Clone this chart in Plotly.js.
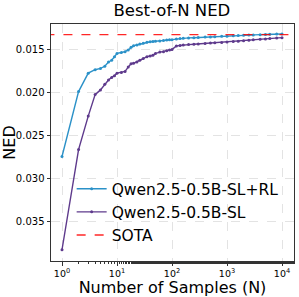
<!DOCTYPE html>
<html><head><meta charset="utf-8">
<script src="https://cdn.plot.ly/plotly-3.0.1.min.js"></script>
<style>html,body{margin:0;padding:0;background:#fff}#c{width:299px;height:297px}</style>
</head><body><div id="c"></div>
<script>
const samplesN = [1,2,3,4,5,6,7,8,9,10,12,14,16,18,20,23,26,30,35,40,45,50,60,70,80,90,100,120,140,160,200,250,300,400,500,600,800,1000,1300,1600,2000,2500,3000,4000,5000,6000,8000,10000];
const nedSLRL = [0.0274,0.01985,0.0177,0.0173,0.01715,0.0169,0.0164,0.0162,0.0158,0.0154,0.0153,0.0152,0.0150,0.0147,0.0145,0.01442,0.01432,0.01422,0.0141,0.01405,0.01402,0.0140,0.01395,0.0139,0.01385,0.01382,0.0138,0.01374,0.01368,0.01364,0.0136,0.01358,0.01355,0.0135,0.01348,0.01346,0.01342,0.0134,0.01336,0.01333,0.0133,0.01327,0.01325,0.01322,0.0132,0.01318,0.01315,0.01314];
const nedSL = [0.03826,0.0266,0.0227,0.0202,0.01965,0.0190,0.0185,0.0182,0.0180,0.0177,0.01762,0.0175,0.0170,0.0166,0.01655,0.0164,0.0162,0.0160,0.01578,0.0157,0.01562,0.0154,0.01525,0.0152,0.0151,0.0150,0.01495,0.01453,0.01448,0.01442,0.01438,0.01434,0.0143,0.01424,0.0142,0.01416,0.01412,0.01408,0.01402,0.01398,0.01392,0.01386,0.01382,0.01376,0.01372,0.01368,0.01362,0.01357];
const sotaNED = 0.01322;
const xTickVals = [1,10,100,1000,10000];
const xTickText = ['10<sup>0</sup>','10<sup>1</sup>','10<sup>2</sup>','10<sup>3</sup>','10<sup>4</sup>'];
const yTickVals = [0.015,0.020,0.025,0.030,0.035];
const yTickText = ['0.015','0.020','0.025','0.030','0.035'];

const F = 'DejaVu Sans, sans-serif';
const traces = [
  {x: samplesN, y: nedSLRL, mode:'lines+markers', name:'Qwen2.5-0.5B-SL+RL',
   line:{color:'#2b91c8', width:1.4}, marker:{color:'#2b91c8', size:3}},
  {x: samplesN, y: nedSL, mode:'lines+markers', name:'Qwen2.5-0.5B-SL',
   line:{color:'#5e3a8c', width:1.4}, marker:{color:'#5e3a8c', size:3}},
  {x: [0.5, 20000], y: [sotaNED, sotaNED], mode:'lines', name:'SOTA',
   line:{color:'rgba(255,0,0,0.85)', width:1.3, dash:'dash'}}
];
const layout = {
  width:299, height:297,
  margin:{l:51, r:5, t:24, b:36},
  paper_bgcolor:'#fff', plot_bgcolor:'#fff',
  font:{family:F, color:'#000', size:10},
  title:{text:'Best-of-N NED', font:{family:F, size:16.5, color:'#000'}, x:0.575, xanchor:'center', y:0.985, yanchor:'top'},
  showlegend:true,
  legend:{x:0.085, y:0.375, xanchor:'left', yanchor:'top', bgcolor:'rgba(255,255,255,0)', font:{family:F, size:15.5, color:'#000'}, tracegroupgap:0, itemwidth:30},
  xaxis:{type:'log', range:[-0.2, 4.218], tickvals:xTickVals, ticktext:xTickText,
    ticks:'outside', ticklen:3.5, tickcolor:'#333', tickfont:{family:F, size:9.5},
    showgrid:true, gridcolor:'#dcdcdc', griddash:'dash', gridwidth:0.8,
    showline:true, linecolor:'#333', linewidth:1, mirror:true, zeroline:false,
    minor:{ticks:'outside', ticklen:2, tickcolor:'#333', showgrid:false},
    title:{text:'Number of Samples (N)', font:{family:F, size:16}, standoff:2}},
  yaxis:{range:[0.03957, 0.01198], tickvals:yTickVals, ticktext:yTickText,
    ticks:'outside', ticklen:3.5, tickcolor:'#333', tickfont:{family:F, size:10},
    showgrid:true, gridcolor:'#dcdcdc', griddash:'dash', gridwidth:0.8,
    showline:true, linecolor:'#333', linewidth:1, mirror:true, zeroline:false,
    title:{text:'NED', font:{family:F, size:16}, standoff:4}}
};
Plotly.newPlot('c', traces, layout, {displayModeBar:false, staticPlot:true});
</script></body></html>
